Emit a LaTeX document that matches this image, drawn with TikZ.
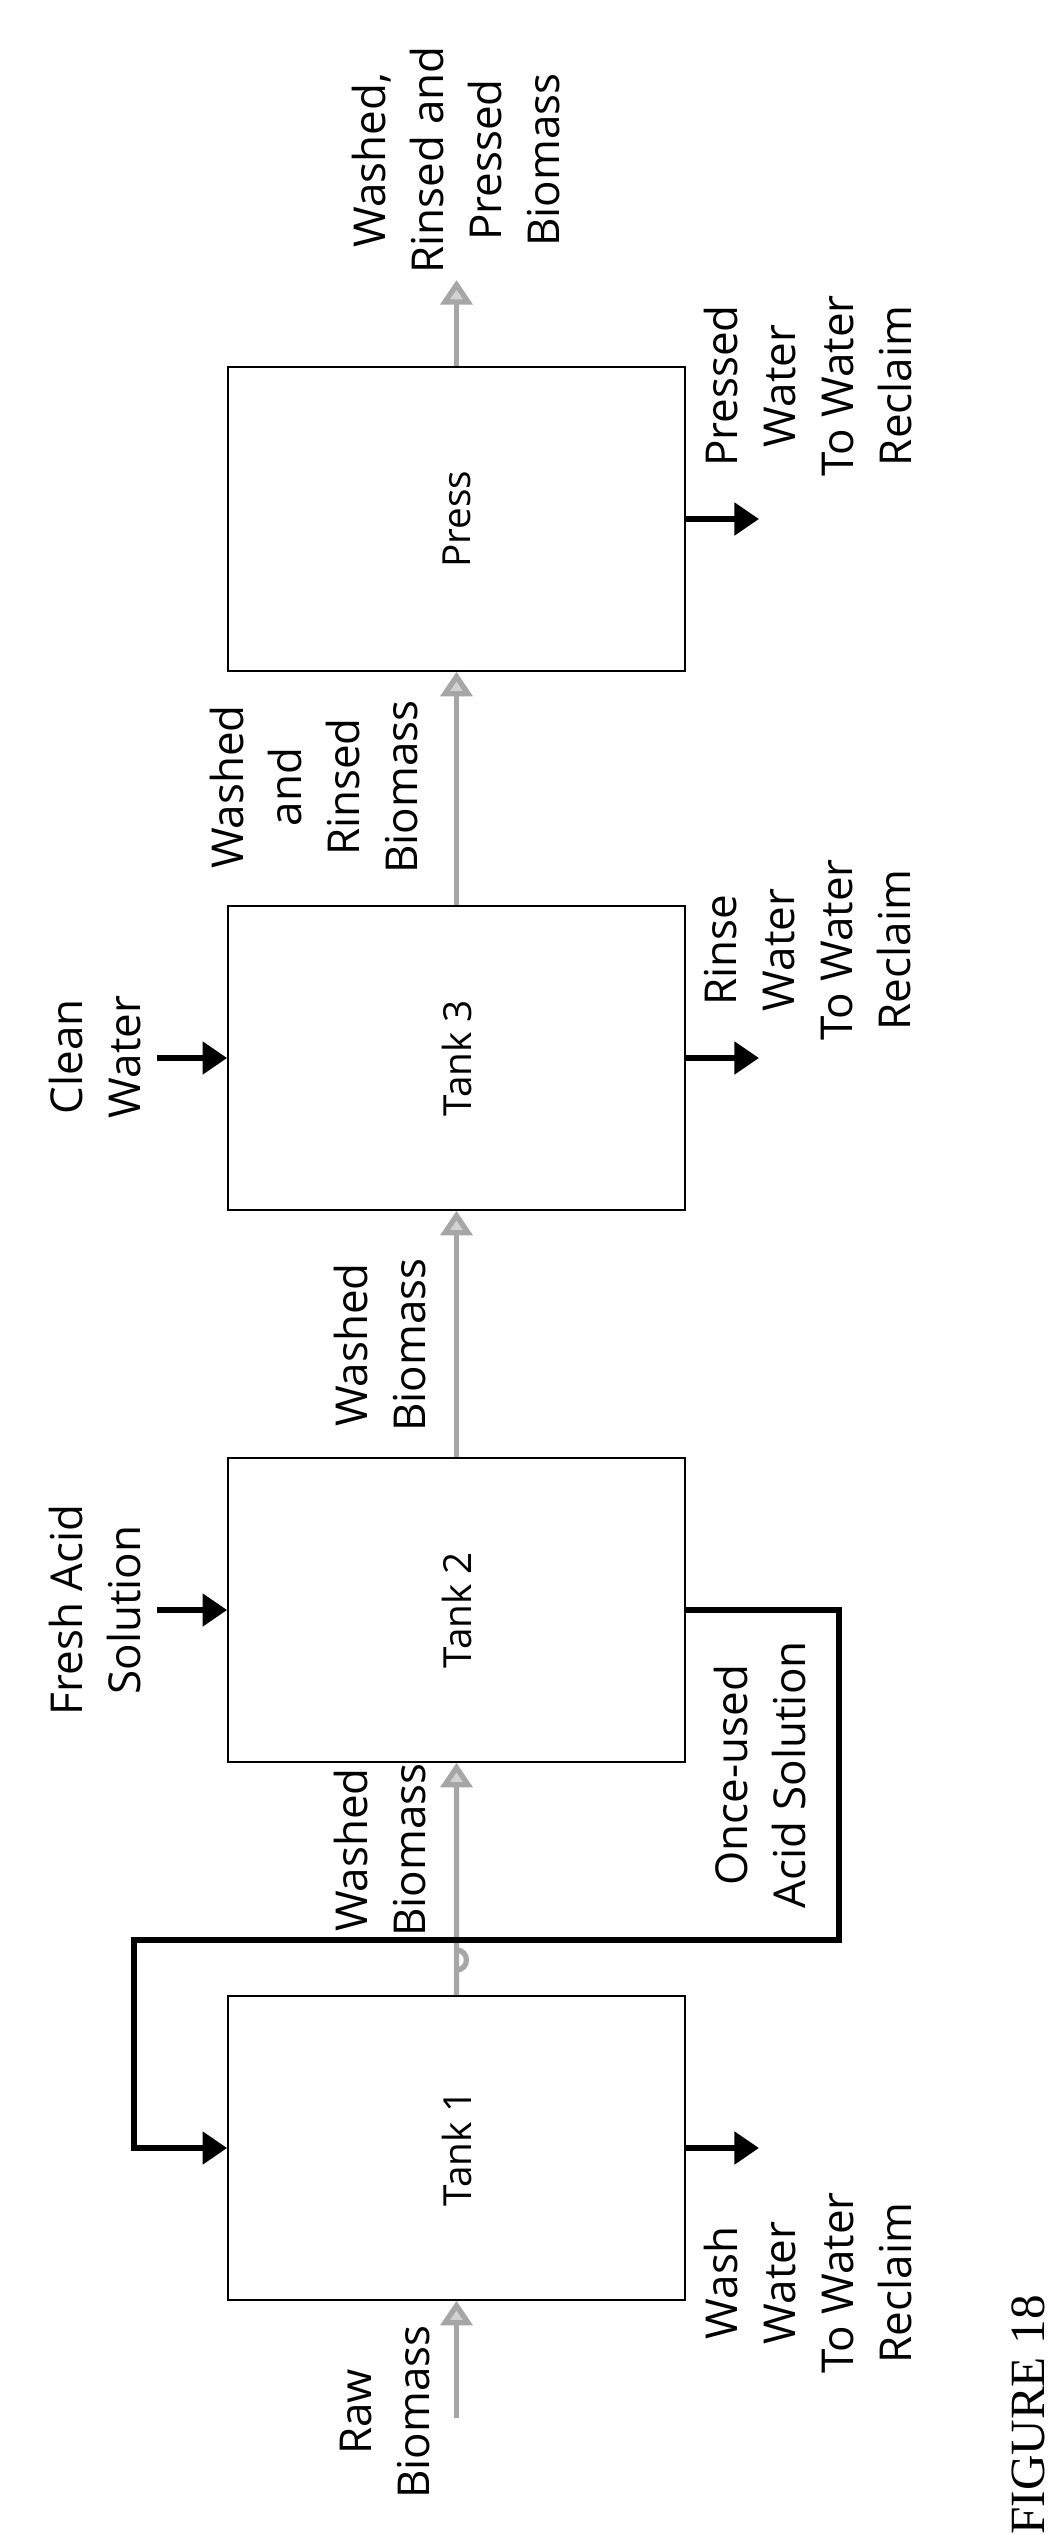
\documentclass[tikz,border=0pt]{standalone}
\usepackage{fontspec}
\setmainfont{Open Sans}
\newfontfamily\figfont{Liberation Serif}
\usetikzlibrary{arrows.meta}
\usetikzlibrary{positioning}
\tikzset{>=latex}
\tikzstyle{unit} = [rectangle, draw=black, thin, minimum width=4.57cm, minimum height=3.04cm, font=\fontsize{11}{13}\selectfont, rotate=90]
\tikzstyle{lbl} = [draw=none, rotate=90, align=center, font=\fontsize{12.5}{16.5}\selectfont]
\tikzstyle{flow} = [-{Triangle[width=9pt,length=7pt,fill=gray!35]}, draw=gray!70, line width=1.5pt]
\tikzstyle{feed} = [-{Triangle[width=9pt,length=7pt]}, draw=black, line width=1.8pt]

\begin{document}
\begin{tikzpicture}[x=0.01cm, y=-0.01cm]
\useasboundingbox (0,0) rectangle (1061,2534);
\node [unit, minimum width=3.04cm, minimum height=4.57cm] (T1) at (456.5, 2148) {Tank 1};
\node [unit, minimum width=3.04cm, minimum height=4.57cm] (T2) at (456.5, 1610) {Tank 2};
\node [unit, minimum width=3.04cm, minimum height=4.57cm] (T3) at (456.5, 1058) {Tank 3};
\node [unit, minimum width=3.04cm, minimum height=4.57cm] (P) at (456.5, 519) {Press};
% inlets and outlets
\coordinate (rawin) at (456.5, 2418);
\coordinate (out) at (456.5, 280);
\coordinate (cwin) at (157, 1058);
\coordinate (fain) at (157, 1610);
\coordinate (w1) at (759, 2148);
\coordinate (w3) at (759, 1058);
\coordinate (wp) at (759, 519);
\coordinate (loopA) at (839, 1610);
\coordinate (loopB) at (839, 1940);
\coordinate (loopC) at (134, 1940);
\coordinate (loopD) at (134, 2148);
% biomass line
\draw [flow] (rawin) to (T1.west);
\draw [flow] (T1.east) -- (456.5, 1950) arc (-90:90:10) -- (T2.west);
\draw [flow] (T2.east) to (T3.west);
\draw [flow] (T3.east) to (P.west);
\draw [flow] (P.east) to (out);
% liquids
\draw [feed] (cwin) to (T3.north);
\draw [feed] (fain) to (T2.north);
\draw [feed] (T1.south) to (w1);
\draw [feed] (T3.south) to (w3);
\draw [feed] (P.south) to (wp);
\draw [feed] (T2.south) -- (loopA) -- (loopB) -- (loopC) -- (loopD) -- (T1.north);
% labels
\node [lbl] (lraw) at (385, 2412) {Raw\\Biomass};
\node [lbl] (lwb1) at (380, 1850) {Washed\\Biomass};
\node [lbl] (lwb2) at (380, 1345) {Washed\\Biomass};
\node [lbl] (lwrb) at (314, 787) {Washed\\and\\Rinsed\\Biomass};
\node [lbl] (lfin) at (456, 160) {Washed,\\Rinsed and\\Pressed\\Biomass};
\node [lbl] (lcw) at (95, 1057) {Clean\\Water};
\node [lbl] (lfa) at (95, 1610) {Fresh Acid\\Solution};
\node [lbl] (lwash) at (808, 2283) {Wash\\Water\\To Water\\Reclaim};
\node [lbl] (lrinse) at (808, 950) {Rinse\\Water\\To Water\\Reclaim};
\node [lbl] (lpress) at (808, 386) {Pressed\\Water\\To Water\\Reclaim};
\node [lbl] (lonce) at (760, 1775) {Once-used\\Acid Solution};
\node [draw=none, inner sep=0pt, rotate=90, font=\figfont\fontsize{14}{17}\selectfont] (fig) at (1028, 2415) {FIGURE 18};
\end{tikzpicture}
\end{document}
